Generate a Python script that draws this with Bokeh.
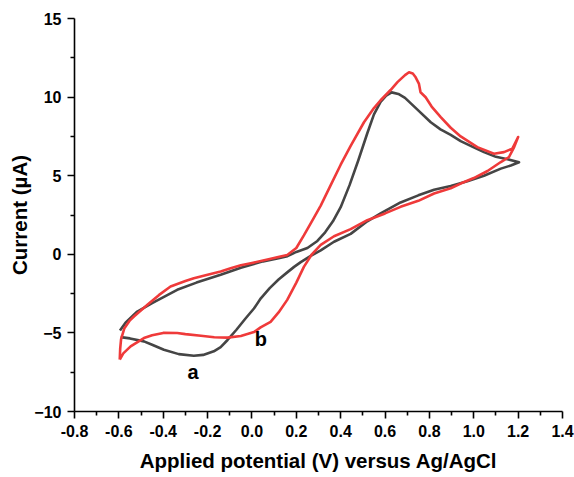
from bokeh.plotting import figure
from bokeh.models import FixedTicker, NumeralTickFormatter, Range1d
from bokeh.core.properties import value
from bokeh.embed import file_html
from bokeh.resources import INLINE

# Curve a (grey): closed CV loop, anodic sweep then cathodic return
v_a = [-0.595, -0.57, -0.517, -0.45, -0.337, -0.25, -0.141, -0.05, 0.05, 0.12, 0.16, 0.20,
       0.25, 0.295, 0.33, 0.365, 0.40, 0.44, 0.48, 0.52, 0.55, 0.58, 0.605, 0.63, 0.66,
       0.69, 0.746, 0.806, 0.85, 0.896, 0.941, 1.0, 1.046, 1.10, 1.152, 1.204,
       1.167, 1.122, 1.046, 0.971, 0.896, 0.821, 0.75, 0.67, 0.58, 0.52, 0.445, 0.37,
       0.31, 0.265, 0.22, 0.19, 0.159, 0.12, 0.08, 0.04, 0.009, -0.03, -0.07, -0.11,
       -0.141, -0.172, -0.22, -0.262, -0.33, -0.397, -0.45, -0.487, -0.55, -0.592]
i_a = [-4.85, -4.35, -3.64, -3.10, -2.26, -1.80, -1.30, -0.85, -0.45, -0.25, -0.12, 0.15,
       0.40, 0.85, 1.40, 2.10, 3.00, 4.40, 6.00, 7.70, 8.90, 9.70, 10.10, 10.30, 10.20,
       9.95, 9.20, 8.40, 7.95, 7.60, 7.20, 6.80, 6.50, 6.20, 6.05, 5.85,
       5.65, 5.45, 5.00, 4.65, 4.35, 4.10, 3.75, 3.30, 2.60, 2.10, 1.30, 0.80,
       0.25, -0.10, -0.50, -0.80, -1.15, -1.60, -2.15, -2.80, -3.45, -4.10, -4.80, -5.45,
       -5.90, -6.17, -6.40, -6.45, -6.35, -6.07, -5.75, -5.54, -5.35, -5.27]

# Curve b (red)
v_b = [-0.596, -0.594, -0.59, -0.575, -0.55, -0.532, -0.47, -0.42, -0.367, -0.30, -0.262,
       -0.20, -0.141, -0.096, -0.05, 0.0, 0.08, 0.159, 0.20, 0.234, 0.27, 0.31, 0.355,
       0.40, 0.445, 0.505, 0.55, 0.58, 0.625, 0.656, 0.69, 0.708, 0.725, 0.738, 0.753,
       0.76, 0.783, 0.81, 0.851, 0.896, 0.941, 1.016, 1.091, 1.136, 1.174, 1.20,
       1.182, 1.159, 1.122, 1.062, 1.0, 0.941, 0.896, 0.821, 0.75, 0.67, 0.60, 0.52,
       0.445, 0.37, 0.31, 0.27, 0.234, 0.20, 0.159, 0.12, 0.084, 0.039, 0.009, -0.05,
       -0.11, -0.17, -0.23, -0.30, -0.337, -0.40, -0.45, -0.487, -0.547, -0.58, -0.596]
i_b = [-6.70, -6.00, -5.40, -4.70, -4.20, -3.96, -3.20, -2.60, -2.05, -1.70, -1.52,
       -1.30, -1.10, -0.89, -0.70, -0.55, -0.30, -0.04, 0.40, 1.20, 2.10, 3.10, 4.40,
       5.70, 6.90, 8.40, 9.30, 9.80, 10.45, 10.95, 11.40, 11.58, 11.50, 11.26, 10.84,
       10.31, 9.99, 9.40, 8.73, 8.05, 7.50, 6.82, 6.40, 6.50, 6.72, 7.46,
       6.82, 6.19, 5.87, 5.30, 4.85, 4.50, 4.20, 3.87, 3.40, 3.02, 2.60, 2.17,
       1.60, 1.15, 0.60, 0.00, -0.80, -1.80, -2.90, -3.70, -4.30, -4.65, -4.95, -5.20,
       -5.30, -5.28, -5.18, -5.08, -5.01, -5.00, -5.15, -5.33, -5.86, -6.30, -6.70]

label_x = [-0.265, 0.04]
label_y = [-7.46, -5.39]
label_text = ["a", "b"]

x_ticks = [-0.8, -0.6, -0.4, -0.2, 0.0, 0.2, 0.4, 0.6, 0.8, 1.0, 1.2, 1.4]
x_minor = [-0.7, -0.5, -0.3, -0.1, 0.1, 0.3, 0.5, 0.7, 0.9, 1.1, 1.3]
y_ticks = [-10, -5, 0, 5, 10, 15]
y_minor = [-7.5, -2.5, 2.5, 7.5, 12.5]

FONT = "Liberation Sans"

p = figure(width=574, height=477, output_backend="svg", toolbar_location=None,
           x_range=Range1d(-0.8, 1.4), y_range=Range1d(-10, 15),
           min_border_left=74, min_border_right=12, min_border_top=18, min_border_bottom=66)
p.outline_line_color = None
p.xgrid.visible = False
p.ygrid.visible = False
p.background_fill_color = "white"
p.border_fill_color = "white"

p.line(v_a, i_a, line_color="#454545", line_width=2.6, line_join="round")
p.line(v_b, i_b, line_color="#ef3a3a", line_width=2.6, line_join="round")

p.text(label_x, label_y, text=label_text, text_font=value(FONT), text_font_style="bold",
       text_font_size="20px", text_align="center", text_baseline="middle", text_color="black")

for ax, ticks, minor in ((p.xaxis[0], x_ticks, x_minor), (p.yaxis[0], y_ticks, y_minor)):
    ax.ticker = FixedTicker(ticks=ticks, minor_ticks=minor)
    ax.axis_line_width = 1.6
    ax.major_tick_line_width = 1.6
    ax.minor_tick_line_width = 1.6
    ax.major_tick_out = 7
    ax.major_tick_in = 0
    ax.minor_tick_out = 4
    ax.minor_tick_in = 0
    ax.major_label_text_font = FONT
    ax.major_label_text_font_style = "bold"
    ax.major_label_text_font_size = "16px"
    ax.major_label_text_color = "black"
    ax.axis_label_text_font = FONT
    ax.axis_label_text_font_style = "bold"
    ax.axis_label_text_font_size = "20.5px"
    ax.axis_label_text_color = "black"

p.xaxis[0].formatter = NumeralTickFormatter(format="0.0")
p.xaxis[0].axis_label = "Applied potential (V) versus Ag/AgCl"
p.yaxis[0].axis_label = "Current (\u00b5A)"
p.xaxis[0].major_label_standoff = 6
p.xaxis[0].axis_label_standoff = 9
p.yaxis[0].major_label_standoff = 6
p.yaxis[0].axis_label_standoff = 0

open("out.html", "w").write(file_html(p, INLINE))
